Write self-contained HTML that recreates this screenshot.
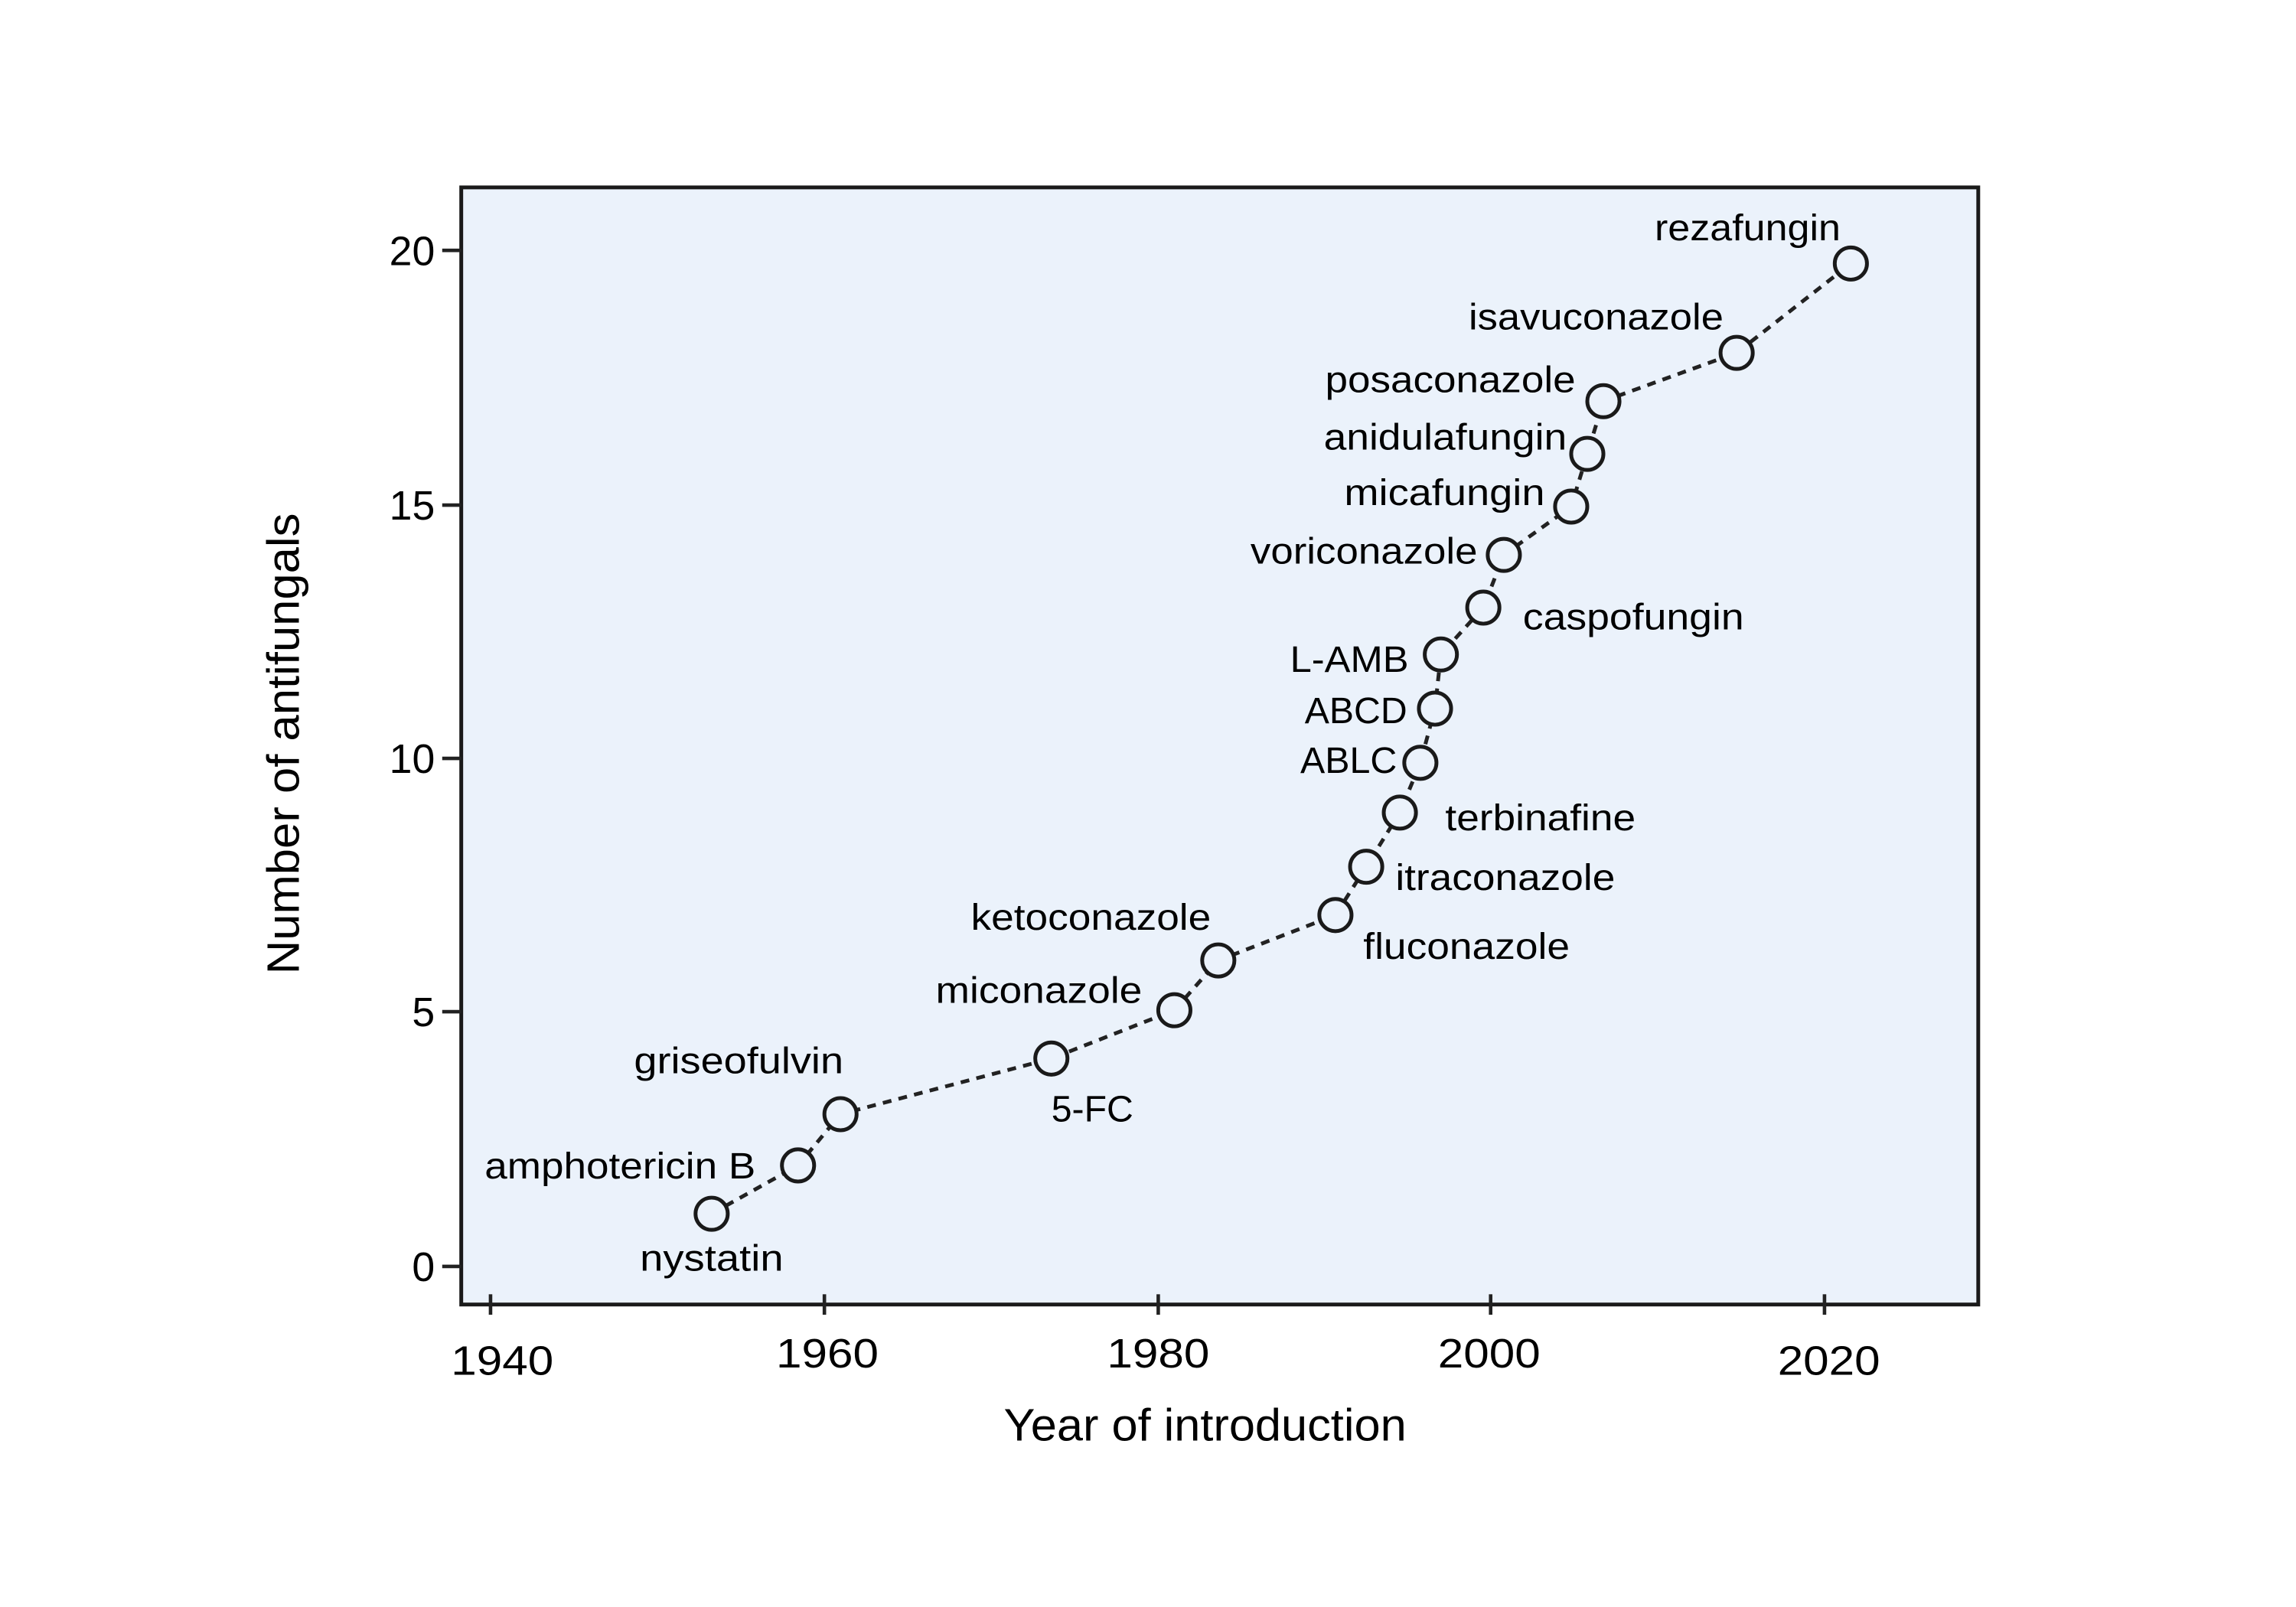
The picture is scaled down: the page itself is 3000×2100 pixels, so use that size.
<!DOCTYPE html>
<html><head><meta charset="utf-8"><style>html,body{margin:0;padding:0;background:#fff}svg{display:block}</style></head>
<body>
<svg width="3000" height="2100" viewBox="0 0 1568 1097.6" xmlns="http://www.w3.org/2000/svg" font-family="'Liberation Sans', sans-serif">
<rect x="315" y="128" width="1036" height="763" fill="#ebf2fb" stroke="#1a1a1a" stroke-width="2.6"/>
<g stroke="#222" stroke-width="2.4">
<line x1="302" y1="171" x2="315" y2="171"/><line x1="302" y1="345" x2="315" y2="345"/><line x1="302" y1="518" x2="315" y2="518"/><line x1="302" y1="691" x2="315" y2="691"/><line x1="302" y1="865" x2="315" y2="865"/>
<line x1="335" y1="884" x2="335" y2="898"/><line x1="563" y1="884" x2="563" y2="898"/><line x1="791" y1="884" x2="791" y2="898"/><line x1="1018" y1="884" x2="1018" y2="898"/><line x1="1246" y1="884" x2="1246" y2="898"/>
</g>
<g font-size="28" fill="#000" text-anchor="end">
<text x="297" y="181">20</text><text x="297" y="355">15</text><text x="297" y="528">10</text><text x="297" y="701">5</text><text x="297" y="875">0</text>
</g>
<g font-size="28" fill="#000" text-anchor="middle">
<text x="343" y="939" textLength="70" lengthAdjust="spacingAndGlyphs">1940</text>
<text x="565" y="934" textLength="70" lengthAdjust="spacingAndGlyphs">1960</text>
<text x="791" y="934" textLength="70" lengthAdjust="spacingAndGlyphs">1980</text>
<text x="1017" y="934" textLength="70" lengthAdjust="spacingAndGlyphs">2000</text>
<text x="1249" y="939" textLength="70" lengthAdjust="spacingAndGlyphs">2020</text>
</g>
<text x="823" y="984" font-size="31" text-anchor="middle" textLength="275" lengthAdjust="spacingAndGlyphs">Year of introduction</text>
<text transform="translate(204,508) rotate(-90)" font-size="31" text-anchor="middle" textLength="315" lengthAdjust="spacingAndGlyphs">Number of antifungals</text>
<polyline fill="none" stroke="#222" stroke-width="2.6" stroke-dasharray="6,5" points="486,829 545,796 574,761 718,723 802,690 832,656 912,625 933,592 956,555 970,521 980,484 984,447 1013,415 1027,379 1073,346 1084,310 1095,274 1186,241 1264,180"/>
<g fill="#ebf2fb" stroke="#1a1a1a" stroke-width="2.6">
<circle cx="486" cy="829" r="11"/><circle cx="545" cy="796" r="11"/><circle cx="574" cy="761" r="11"/><circle cx="718" cy="723" r="11"/><circle cx="802" cy="690" r="11"/><circle cx="832" cy="656" r="11"/><circle cx="912" cy="625" r="11"/><circle cx="933" cy="592" r="11"/><circle cx="956" cy="555" r="11"/><circle cx="970" cy="521" r="11"/><circle cx="980" cy="484" r="11"/><circle cx="984" cy="447" r="11"/><circle cx="1013" cy="415" r="11"/><circle cx="1027" cy="379" r="11"/><circle cx="1073" cy="346" r="11"/><circle cx="1084" cy="310" r="11"/><circle cx="1095" cy="274" r="11"/><circle cx="1186" cy="241" r="11"/><circle cx="1264" cy="180" r="11"/>
</g>
<g font-size="25" fill="#000">
<text x="1130" y="164" textLength="127" lengthAdjust="spacingAndGlyphs">rezafungin</text>
<text x="1003" y="225" textLength="174" lengthAdjust="spacingAndGlyphs">isavuconazole</text>
<text x="905" y="268" textLength="171" lengthAdjust="spacingAndGlyphs">posaconazole</text>
<text x="904" y="307" textLength="166" lengthAdjust="spacingAndGlyphs">anidulafungin</text>
<text x="918" y="345" textLength="137" lengthAdjust="spacingAndGlyphs">micafungin</text>
<text x="854" y="385" textLength="155" lengthAdjust="spacingAndGlyphs">voriconazole</text>
<text x="1040" y="430" textLength="151" lengthAdjust="spacingAndGlyphs">caspofungin</text>
<text x="881" y="459" textLength="81" lengthAdjust="spacingAndGlyphs">L-AMB</text>
<text x="891" y="494" textLength="70" lengthAdjust="spacingAndGlyphs">ABCD</text>
<text x="888" y="528" textLength="66" lengthAdjust="spacingAndGlyphs">ABLC</text>
<text x="987" y="567" textLength="130" lengthAdjust="spacingAndGlyphs">terbinafine</text>
<text x="953" y="608" textLength="150" lengthAdjust="spacingAndGlyphs">itraconazole</text>
<text x="931" y="655" textLength="141" lengthAdjust="spacingAndGlyphs">fluconazole</text>
<text x="663" y="635" textLength="164" lengthAdjust="spacingAndGlyphs">ketoconazole</text>
<text x="639" y="685" textLength="141" lengthAdjust="spacingAndGlyphs">miconazole</text>
<text x="718" y="766" textLength="56" lengthAdjust="spacingAndGlyphs">5-FC</text>
<text x="433" y="733" textLength="143" lengthAdjust="spacingAndGlyphs">griseofulvin</text>
<text x="331" y="805" textLength="185" lengthAdjust="spacingAndGlyphs">amphotericin B</text>
<text x="437" y="868" textLength="98" lengthAdjust="spacingAndGlyphs">nystatin</text>
</g>
</svg>
</body></html>
